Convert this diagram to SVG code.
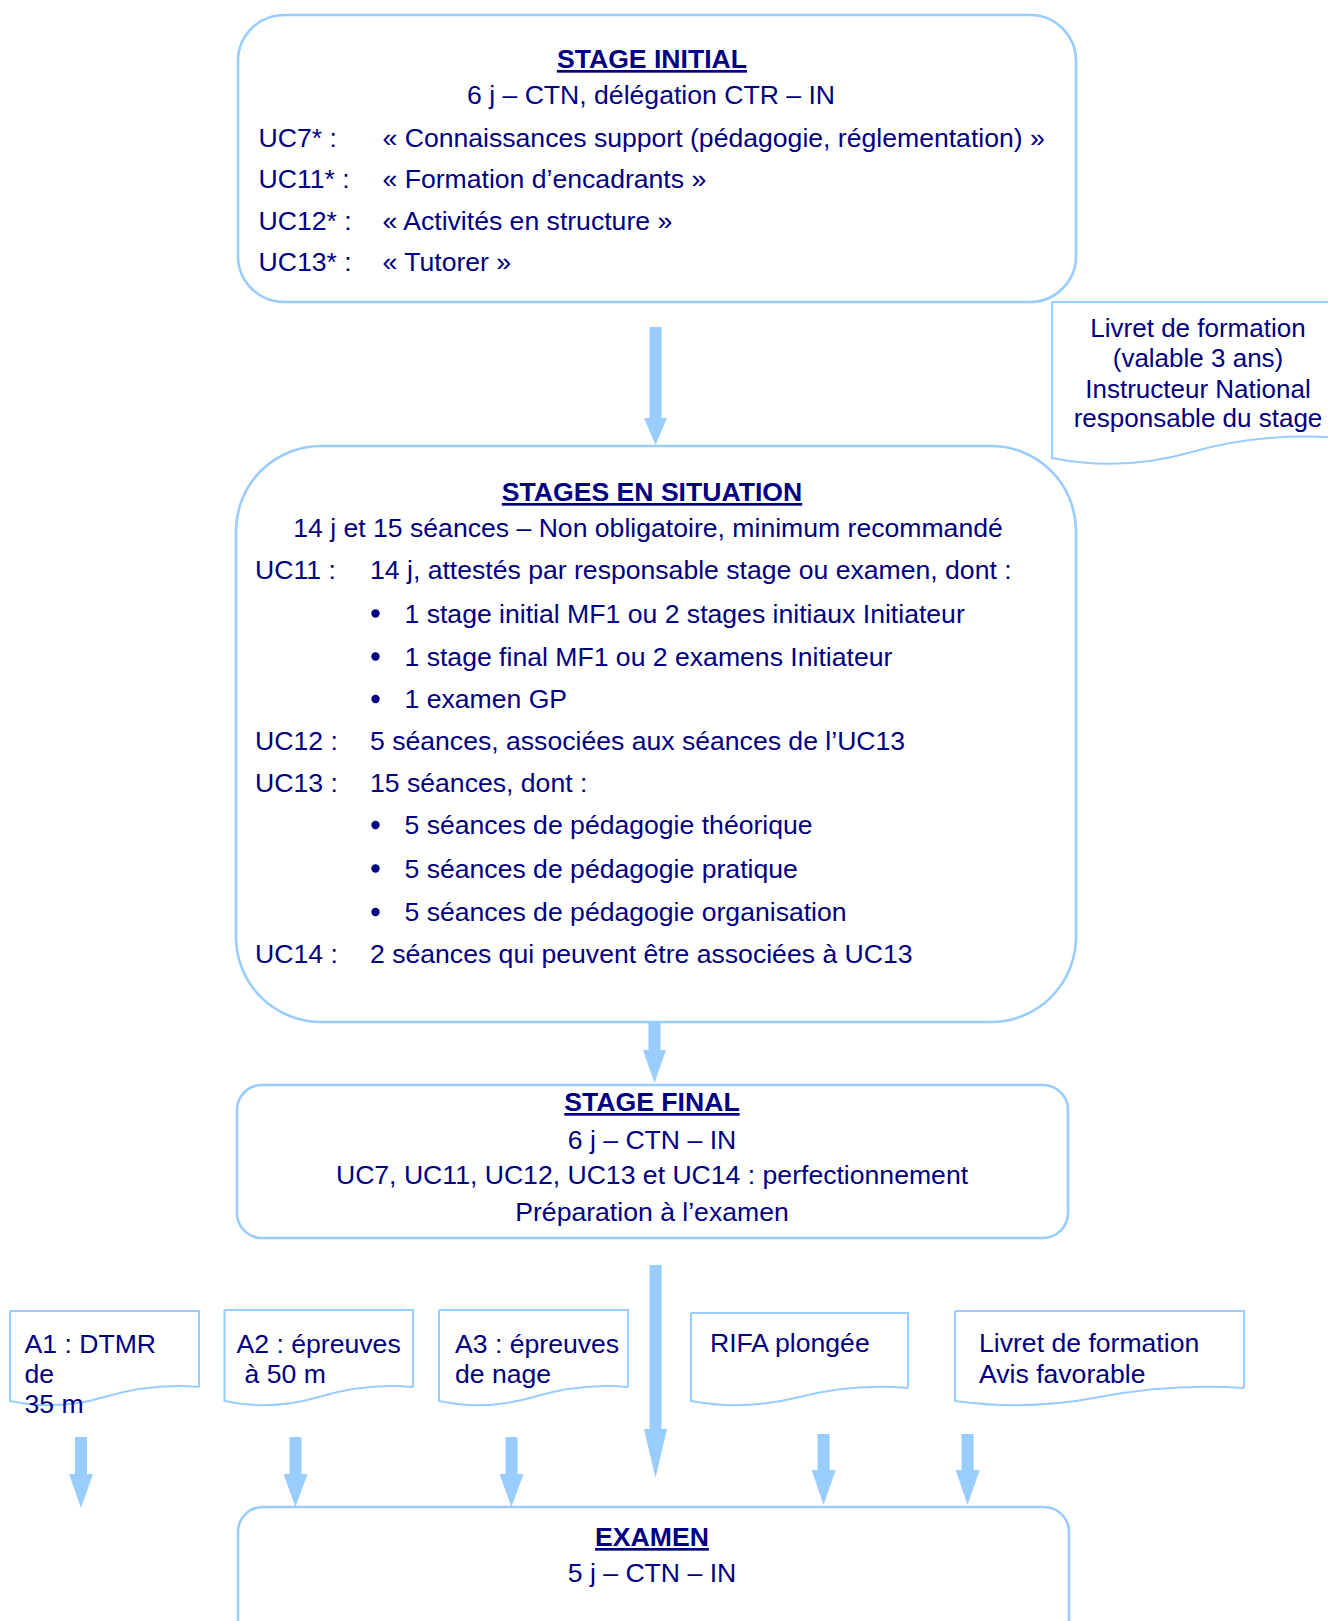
<svg xmlns="http://www.w3.org/2000/svg" width="1328" height="1621" viewBox="0 0 1328 1621">
<style>
  .box { fill: #ffffff; stroke: #99ccff; stroke-width: 2.6; }
  .doc { fill: #ffffff; stroke: #99ccff; stroke-width: 2; }
  .t { font-family: "Liberation Sans", Arial, sans-serif; font-size: 26.6px; fill: #000080; }
  .s { font-size: 26px; }
  .c { text-anchor: middle; }
  .h { font-weight: bold; text-decoration: underline; }
  .arrow { fill: #99ccff; stroke: none; }
  .bullet { fill: #000080; }
</style>
<rect width="1328" height="1621" fill="#ffffff"/>

<g id="connectors">
  <polygon class="arrow" points="649.5,327 661.5,327 661.5,418 667,418 655.5,445 644,418 649.5,418"/>
  <polygon class="arrow" points="648.5,1013 660.5,1013 660.5,1050 666,1050 654.5,1083 643,1050 648.5,1050"/>
  <polygon class="arrow" points="649.5,1265 661.5,1265 661.5,1429 667,1429 655.5,1478 644,1429 649.5,1429"/>
  <polygon class="arrow" points="75,1437 87,1437 87,1474 93,1474 81,1508 69,1474 75,1474"/>
  <polygon class="arrow" points="289.5,1437 301.5,1437 301.5,1474 307.5,1474 295.5,1507 283.5,1474 289.5,1474"/>
  <polygon class="arrow" points="505.5,1437 517.5,1437 517.5,1474 523.5,1474 511.5,1507 499.5,1474 505.5,1474"/>
  <polygon class="arrow" points="817.6,1434 829.6,1434 829.6,1470 835.6,1470 823.6,1505 811.6,1470 817.6,1470"/>
  <polygon class="arrow" points="961.6,1434 973.6,1434 973.6,1470 979.6,1470 967.6,1505 955.6,1470 961.6,1470"/>
</g>

<g id="stage-initial">
  <rect class="box" x="238" y="15" width="838" height="287" rx="46" ry="46"/>
  <text class="t c h" x="652" y="68">STAGE INITIAL</text>
  <text class="t c" x="651" y="104">6 j – CTN, délégation CTR – IN</text>
  <text class="t" x="258.5" y="147">UC7* :</text>
  <text class="t" x="382.5" y="147">« Connaissances support (pédagogie, réglementation) »</text>
  <text class="t" x="258.5" y="188">UC11* :</text>
  <text class="t" x="382.5" y="188">« Formation d’encadrants »</text>
  <text class="t" x="258.5" y="230">UC12* :</text>
  <text class="t" x="382.5" y="230">« Activités en structure »</text>
  <text class="t" x="258.5" y="271">UC13* :</text>
  <text class="t" x="382.5" y="271">« Tutorer »</text>
</g>

<g id="livret-stage">
  <path class="doc" d="M1052,302 H1340 V438 M1052,302 V458 Q1122,472 1192,452 T1340,438"/>
  <text class="t s c" x="1198" y="337">Livret de formation</text>
  <text class="t s c" x="1198" y="367">(valable 3 ans)</text>
  <text class="t s c" x="1198" y="398">Instructeur National</text>
  <text class="t s c" x="1198" y="427">responsable du stage</text>
</g>

<g id="stages-en-situation">
  <rect class="box" x="236" y="446" width="840" height="576" rx="85" ry="85"/>
  <text class="t c h" x="652" y="501">STAGES EN SITUATION</text>
  <text class="t c" x="648" y="537">14 j et 15 séances – Non obligatoire, minimum recommandé</text>
  <text class="t" x="255" y="579">UC11 :</text>
  <text class="t" x="370" y="579">14 j, attestés par responsable stage ou examen, dont :</text>
  <circle class="bullet" cx="375.5" cy="613.5" r="4.2"/>
  <text class="t" x="404.5" y="622.5">1 stage initial MF1 ou 2 stages initiaux Initiateur</text>
  <circle class="bullet" cx="375.5" cy="656.5" r="4.2"/>
  <text class="t" x="404.5" y="665.5">1 stage final MF1 ou 2 examens Initiateur</text>
  <circle class="bullet" cx="375.5" cy="699" r="4.2"/>
  <text class="t" x="404.5" y="708">1 examen GP</text>
  <text class="t" x="255" y="750">UC12 :</text>
  <text class="t" x="370" y="750">5 séances, associées aux séances de l’UC13</text>
  <text class="t" x="255" y="792">UC13 :</text>
  <text class="t" x="370" y="792">15 séances, dont :</text>
  <circle class="bullet" cx="375.5" cy="825" r="4.2"/>
  <text class="t" x="404.5" y="834">5 séances de pédagogie théorique</text>
  <circle class="bullet" cx="375.5" cy="868.5" r="4.2"/>
  <text class="t" x="404.5" y="877.5">5 séances de pédagogie pratique</text>
  <circle class="bullet" cx="375.5" cy="912" r="4.2"/>
  <text class="t" x="404.5" y="921">5 séances de pédagogie organisation</text>
  <text class="t" x="255" y="963">UC14 :</text>
  <text class="t" x="370" y="963">2 séances qui peuvent être associées à UC13</text>
</g>

<g id="stage-final">
  <rect class="box" x="237" y="1085" width="831" height="153" rx="25" ry="25"/>
  <text class="t c h" x="652" y="1111">STAGE FINAL</text>
  <text class="t c" x="652" y="1149">6 j – CTN – IN</text>
  <text class="t c" x="652" y="1184">UC7, UC11, UC12, UC13 et UC14 : perfectionnement</text>
  <text class="t c" x="652" y="1221">Préparation à l’examen</text>
</g>

<g id="a1">
  <path class="doc" d="M10,1311 H199 V1387 M10,1311 V1401 Q57,1411 104.5,1397 T199,1387"/>
  <text class="t" x="24.5" y="1353">A1 : DTMR</text>
  <text class="t" x="24.5" y="1383">de</text>
  <text class="t" x="24.5" y="1413">35 m</text>
</g>

<g id="a2">
  <path class="doc" d="M224.5,1310 H413 V1387 M224.5,1310 V1401 Q271.5,1411 318.8,1397 T413,1387"/>
  <text class="t" x="236.6" y="1353">A2 : épreuves</text>
  <text class="t" x="244.5" y="1383">à 50 m</text>
</g>

<g id="a3">
  <path class="doc" d="M439,1310 H628 V1387 M439,1310 V1401 Q486,1411 533.5,1397 T628,1387"/>
  <text class="t" x="455" y="1353">A3 : épreuves</text>
  <text class="t" x="455" y="1383">de nage</text>
</g>

<g id="rifa">
  <path class="doc" d="M691,1313 H908 V1388 M691,1313 V1401 Q745,1411 799.5,1397 T908,1388"/>
  <text class="t" x="710" y="1352">RIFA plongée</text>
</g>

<g id="livret-avis">
  <path class="doc" d="M955,1311 H1244 V1388 M955,1311 V1401 Q1027,1411 1099.5,1397 T1244,1388"/>
  <text class="t" x="979" y="1352">Livret de formation</text>
  <text class="t" x="979" y="1383">Avis favorable</text>
</g>

<g id="examen">
  <rect class="box" x="238" y="1507" width="831" height="150" rx="25" ry="25"/>
  <text class="t c h" x="652" y="1546">EXAMEN</text>
  <text class="t c" x="652" y="1582">5 j – CTN – IN</text>
</g>
</svg>
